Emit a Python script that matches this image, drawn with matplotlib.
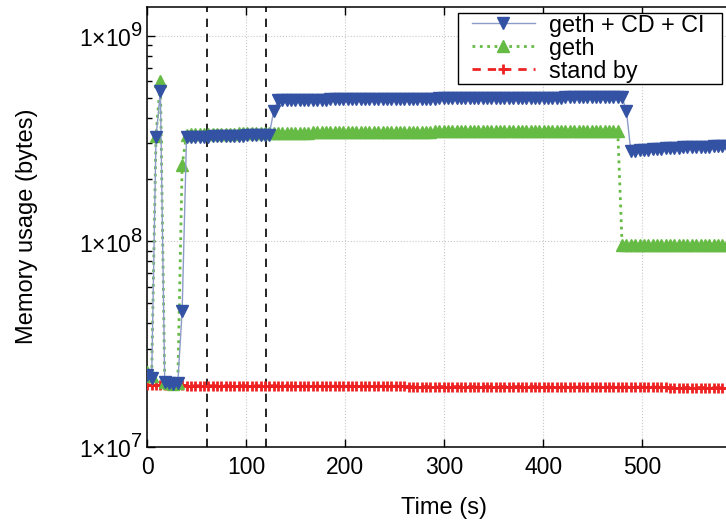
import numpy as np
import matplotlib as mpl
mpl.use('Agg')
import matplotlib.pyplot as plt
import matplotlib._mathtext as mtext
from matplotlib.patches import Rectangle
from matplotlib.ticker import FixedLocator, LogLocator, NullFormatter

# sampling period of the memory logger (s)
t_step = 4.4

# memory usage, in MB (1e6 bytes), one value per sample
mem_cdci = [22.4, 21.6, 320, 540, 20.6, 20.4, 20.3, 20.4, 46, 320,
            321, 322, 322, 323, 323, 324, 324, 325, 325, 326,
            326, 327, 327, 328, 328, 329, 329, 330, 330,
            428,
            486, 486, 487, 487, 487, 488, 488, 488, 488, 489,
            489, 489, 490, 490, 490, 490, 491, 491, 491, 491,
            492, 492, 492, 492, 493, 493, 493, 493, 494, 494,
            494, 494, 495, 495, 495, 495, 495, 496, 496, 496,
            496, 496, 497, 497, 497, 497, 497, 498, 498, 498,
            498, 498, 498, 499, 499, 499, 499, 499, 499, 500,
            500, 500, 500, 500, 500, 500, 501, 501, 501, 501,
            501, 501, 501, 501, 502, 502, 502, 502, 502, 502,
            428,
            275, 276, 277, 278, 279, 280, 281, 282, 283, 284, 284, 285,
            286, 286, 287, 288, 288, 289, 289, 290, 290, 291, 291, 292]

mem_geth = [23.1, 22.0, 327, 600, 20.7, 20.4, 20.3, 20.4, 234, 330,
            331, 331, 332, 332, 332, 333, 333, 333, 334, 334,
            334, 335, 335, 335, 335, 336, 336, 336, 336, 337,
            337, 337, 337, 338, 338, 338, 338, 338, 339, 339,
            339, 339, 339, 339, 340, 340, 340, 340, 340, 340,
            341, 341, 341, 341, 341, 341, 341, 342, 342, 342,
            342, 342, 342, 342, 342, 342, 343, 343, 343, 343,
            343, 343, 343, 343, 343, 343, 343, 344, 344, 344,
            344, 344, 344, 344, 344, 344, 344, 344, 344, 344,
            345, 345, 345, 345, 345, 345, 345, 345, 345, 345,
            345, 345, 345, 345, 345, 345, 345, 345, 345,
            96.0, 95.9, 95.9, 95.8, 95.8, 95.8, 95.7, 95.7, 95.7, 95.7, 95.6, 95.6, 95.6,
            95.6, 95.6, 95.5, 95.5, 95.5, 95.5, 95.5, 95.5, 95.4, 95.4, 95.4, 95.4, 95.4]

mem_standby = [20.0, 19.9, 19.9, 19.9, 19.9, 19.9, 19.9, 19.9, 19.9, 19.8, 19.8, 19.8, 19.8, 19.8, 19.8,
               19.8, 19.8, 19.8, 19.8, 19.8, 19.8, 19.8, 19.8, 19.8, 19.8, 19.8, 19.8, 19.8, 19.8, 19.8,
               19.8, 19.8, 19.8, 19.7, 19.7, 19.7, 19.7, 19.7, 19.7, 19.7, 19.7, 19.7, 19.7, 19.7, 19.7,
               19.7, 19.7, 19.7, 19.7, 19.7, 19.7, 19.7, 19.7, 19.7, 19.7, 19.7, 19.7, 19.7, 19.7, 19.7,
               19.6, 19.6, 19.6, 19.6, 19.6, 19.6, 19.6, 19.6, 19.6, 19.6, 19.6, 19.6, 19.6, 19.6, 19.6,
               19.6, 19.6, 19.6, 19.6, 19.6, 19.6, 19.6, 19.6, 19.6, 19.6, 19.6, 19.6, 19.6, 19.6, 19.6,
               19.5, 19.5, 19.5, 19.5, 19.5, 19.5, 19.5, 19.5, 19.5, 19.5, 19.5, 19.5, 19.5, 19.5, 19.5,
               19.5, 19.5, 19.5, 19.5, 19.5, 19.5, 19.5, 19.5, 19.5, 19.5, 19.5, 19.5, 19.5, 19.5, 19.5,
               19.4, 19.4, 19.4, 19.4, 19.4, 19.4, 19.4, 19.4, 19.4, 19.4, 19.4, 19.4, 19.4, 19.4, 19.4]

labels = ['geth + CD + CI', 'geth', 'stand by']

# events (s) shown as vertical dashed lines
events_t = [60, 120]

xticks = [0, 100, 200, 300, 400, 500]
yticks = [1e7, 1e8, 1e9]
ytick_labels = [r'$\mathregular{1{\times}10^{7}}$', r'$\mathregular{1{\times}10^{8}}$',
                r'$\mathregular{1{\times}10^{9}}$']

clr_blue = '#3352a3'
clr_blue_l = '#8c9cc8'
clr_green = '#66bb44'
clr_red = '#ee2222'

rDPI = 100.

# gnuplot-like superscripts (bigger than mathtext default)
mtext.SHRINK_FACTOR = 0.88

params = {'font.family': ['Liberation Sans', 'DejaVu Sans'],
          'mathtext.fontset': 'custom',
          'mathtext.rm': 'Liberation Sans',
          'mathtext.it': 'Liberation Sans:italic',
          'mathtext.bf': 'Liberation Sans:bold',
          'axes.linewidth': 1.1}
mpl.rcParams.update(params)

n = len(mem_cdci)
vt = np.arange(n) * t_step
b_cdci = np.asarray(mem_cdci) * 1.e6
b_geth = np.asarray(mem_geth) * 1.e6
b_sby = np.asarray(mem_standby) * 1.e6

W = 726. ; H = 525.
x0 = 147.3 ; y0 = 446.7 ; wax = 594. ; hax = 440.

fig = plt.figure(figsize=(W/rDPI, H/rDPI), dpi=rDPI, facecolor='w')
# axes runs past the right border: the original image is cropped there
ax = fig.add_axes([x0/W, (H-y0)/H, wax/W, hax/H])

l3, = ax.plot(vt, b_sby, '--', color=clr_red, lw=2, marker='+', ms=7, mew=2,
              dashes=(3, 2.5), label=labels[2], zorder=3)
l2, = ax.plot(vt, b_geth, ':', color=clr_green, lw=2, marker='^', ms=8, mec=clr_green,
              mfc=clr_green, label=labels[1], zorder=4)
l1, = ax.plot(vt, b_cdci, '-', color=clr_blue_l, lw=1, marker='v', ms=8, mec=clr_blue,
              mfc=clr_blue, label=labels[0], zorder=5)

for te in events_t:
    ax.axvline(te, color='k', ls='--', lw=1.2, dashes=(5, 4), zorder=2)

ax.set_yscale('log')
ax.set_xlim(0, 600)
ax.set_ylim(1e7, 1.385e9)

ax.xaxis.set_major_locator(FixedLocator(xticks))
ax.yaxis.set_major_locator(FixedLocator(yticks))
ax.set_yticklabels(ytick_labels)
ax.yaxis.set_minor_locator(LogLocator(base=10, subs=np.arange(2, 10)))
ax.yaxis.set_minor_formatter(NullFormatter())

ax.tick_params(which='both', direction='in', top=True, right=True, colors='k')
ax.tick_params(which='major', length=6, width=1)
ax.tick_params(which='minor', length=3.5, width=1)
ax.tick_params(axis='x', pad=7, labelsize=16.5)
ax.tick_params(axis='y', pad=3, labelsize=16.5)

ax.grid(which='major', color='#c8c8c8', ls=':', lw=0.8, zorder=0)

ax.set_xlabel('Time (s)', fontsize=17, va='center')
ax.xaxis.set_label_coords(0.5, (y0-508.)/hax)
ax.set_ylabel('Memory usage (bytes)', fontsize=17, va='center')
ax.yaxis.set_label_coords((27.-x0)/wax, 0.5)

# legend box (pixels of the image): x 458-722, y 12.7-84
bx0 = (458.-x0)/wax ; bx1 = (722.-x0)/wax
by0 = (y0-84.)/hax ; by1 = (y0-12.7)/hax
ax.add_patch(Rectangle((bx0, by0), bx1-bx0, by1-by0, transform=ax.transAxes,
                       facecolor='w', edgecolor='k', lw=1.0, zorder=20, clip_on=False))
leg = ax.legend(handles=[l1, l2, l3], loc='upper left',
                bbox_to_anchor=((471.7-x0)/wax, (y0-13.5)/hax),
                borderaxespad=0., frameon=False,
                fontsize=16.8, handlelength=2.7, handletextpad=0.6,
                labelspacing=0.0, borderpad=0.)
leg.set_zorder(21)

plt.savefig('out.png', dpi=rDPI, facecolor='w')
plt.close(fig)
